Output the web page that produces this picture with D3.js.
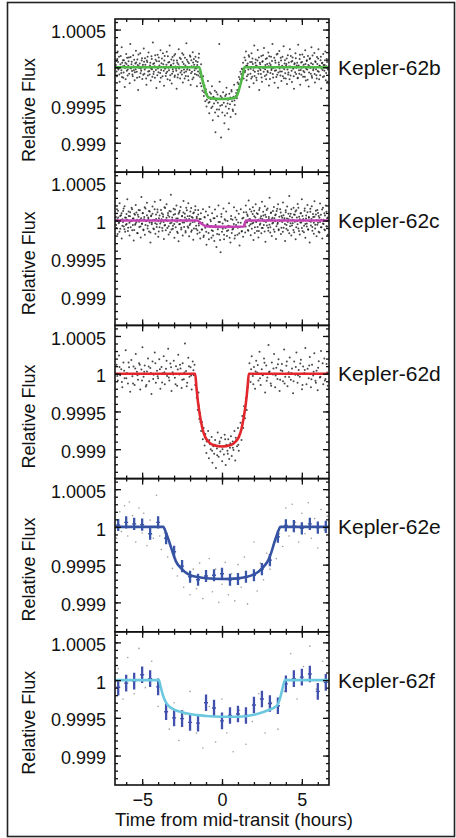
<!DOCTYPE html>
<html>
<head>
<meta charset="utf-8">
<script src="https://cdn.jsdelivr.net/npm/d3@7"></script>
<style>
body { margin: 0; background: #fff; }
svg text { font-family: "Liberation Sans", Arial, Helvetica, sans-serif; fill: #111; }
</style>
</head>
<body>
<svg id="chart" width="456" height="838"></svg>
<script>
// planet names, one panel each
var planetNames = ["Kepler-62b", "Kepler-62c", "Kepler-62d", "Kepler-62e", "Kepler-62f"];

// model fits: [hours from mid-transit, flux offset in ppm]
var bModel = [[-6.7,0],[-1.42,0],[-1.3,-100],[-1.15,-230],[-1.0,-340],[-0.85,-400],[-0.5,-415],[0,-420],[0.5,-415],[0.85,-400],[1.0,-340],[1.15,-230],[1.3,-100],[1.4,0],[6.7,0]];
var cModel = [[-6.7,0],[-1.55,0],[-1.3,-40],[-1.0,-75],[0,-85],[1.38,-80],[1.43,-40],[1.5,0],[6.7,0]];
var dModel = [[-6.7,0],[-1.68,0],[-1.6,-180],[-1.5,-380],[-1.4,-530],[-1.3,-650],[-1.2,-750],[-1.05,-840],[-0.85,-900],[-0.55,-945],[0,-965],[0.55,-945],[0.85,-900],[1.05,-840],[1.2,-750],[1.3,-650],[1.4,-530],[1.5,-380],[1.6,-180],[1.68,0],[6.7,0]];
var eModel = [[-6.7,0],[-3.68,0],[-3.5,-80],[-3.3,-200],[-3.1,-330],[-2.9,-450],[-2.6,-540],[-2.3,-600],[-2.0,-640],[-1.5,-665],[-1,-680],[0,-690],[1,-682],[1.5,-665],[2.0,-630],[2.3,-590],[2.6,-530],[2.9,-440],[3.1,-330],[3.3,-190],[3.5,-70],[3.66,0],[6.7,0]];
var fModel = [[-6.7,0],[-3.95,0],[-3.85,-80],[-3.7,-200],[-3.5,-300],[-3.3,-350],[-3.0,-390],[-2.5,-425],[-2.0,-450],[-1.0,-475],[0,-485],[1.0,-485],[2.0,-460],[2.5,-430],[3.0,-390],[3.3,-360],[3.5,-320],[3.65,-230],[3.8,-100],[3.95,0],[6.7,0]];

// individual measurements: [hours, ppm]
var bDots = [[-6.62,85],[-6.58,-120],[-6.53,210],[-6.49,-30],[-6.45,140],[-6.41,-190],[-6.36,40],[-6.31,-75],[-6.28,265],[-6.22,10],[-6.18,-140],[-6.14,95],[-6.09,-260],[-6.05,60],[-6.0,175],[-5.96,-45],[-5.91,-110],[-5.87,20],[-5.83,130],[-5.78,-210],[-5.74,310],[-5.69,-15],[-5.65,75],[-5.61,-95],[-5.56,160],[-5.52,-40],[-5.47,-170],[-5.43,50],[-5.39,220],[-5.34,-60],[-5.3,105],[-5.25,-300],[-5.21,15],[-5.17,-130],[-5.12,185],[-5.08,-20],[-5.03,90],[-4.99,-155],[-4.95,35],[-4.9,250],[-4.86,-85],[-4.82,120],[-4.77,-5],[-4.73,-230],[-4.68,70],[-4.64,-110],[-4.6,195],[-4.55,-50],[-4.51,25],[-4.46,-175],[-4.42,145],[-4.38,-25],[-4.33,330],[-4.29,-90],[-4.25,55],[-4.2,-140],[-4.16,100],[-4.11,-275],[-4.07,0],[-4.03,165],[-3.98,-65],[-3.94,80],[-3.89,-190],[-3.85,225],[-3.81,-35],[-3.76,115],[-3.72,-120],[-3.68,40],[-3.63,-245],[-3.59,150],[-3.54,-10],[-3.5,-80],[-3.46,205],[-3.41,-160],[-3.37,65],[-3.32,-40],[-3.28,290],[-3.24,-105],[-3.19,30],[-3.15,-215],[-3.1,135],[-3.06,-55],[-3.02,90],[-2.97,-130],[-2.93,175],[-2.88,-20],[-2.84,-285],[-2.8,60],[-2.75,-95],[-2.71,240],[-2.67,10],[-2.62,-150],[-2.58,110],[-2.53,-45],[-2.49,185],[-2.45,-200],[-2.4,45],[-2.36,-70],[-2.32,125],[-2.27,-115],[-2.23,320],[-2.18,-30],[-2.14,75],[-2.1,-170],[-2.05,5],[-2.01,155],[-1.96,-235],[-1.92,95],[-1.88,-60],[-1.83,200],[-1.79,-135],[-1.74,35],[-1.7,-90],[-1.66,140],[-1.61,-15],[-1.57,-250],[-1.53,70],[-1.48,-110],[-1.44,180],
  [-1.39,-80],[-1.35,-210],[-1.31,40],[-1.27,-160],[-1.22,-310],[-1.18,-120],[-1.14,-380],[-1.1,-240],[-1.05,-450],[-1.01,-290],[-0.97,-520],[-0.93,-360],[-0.88,-180],[-0.84,-470],[-0.8,-610],[-0.76,-330],[-0.71,-420],[-0.67,-540],[-0.63,-250],[-0.58,-700],[-0.54,-390],[-0.5,-480],[-0.45,-310],[-0.41,-860],[-0.37,-440],[-0.32,-560],[-0.28,-360],[-0.24,-650],[-0.19,-420],[-0.17,310],[-0.15,-190],[-0.11,-510],[-0.06,-930],[-0.02,-400],[0.02,-600],[0.07,-330],[0.11,-470],[0.15,-740],[0.2,-380],[0.24,-520],[0.28,-270],[0.33,-610],[0.37,-430],[0.41,-820],[0.46,-350],[0.5,-490],[0.54,-660],[0.59,-300],[0.63,-450],[0.67,-560],[0.72,-390],[0.76,-230],[0.8,-500],[0.85,-620],[0.89,-340],[0.93,-410],[0.98,-200],[1.02,-310],[1.06,-130],[1.11,-260],[1.15,-60],[1.19,-180],[1.24,-20],[1.28,-110],[1.32,60],[1.36,-150],
  [1.41,130],[1.45,-45],[1.5,210],[1.54,-170],[1.58,25],[1.63,-95],[1.67,160],[1.71,-260],[1.76,70],[1.8,-20],[1.85,185],[1.89,-125],[1.93,45],[1.98,-210],[2.02,290],[2.06,-60],[2.11,105],[2.15,-140],[2.2,15],[2.24,230],[2.28,-85],[2.33,-300],[2.37,60],[2.41,-35],[2.46,150],[2.5,-190],[2.55,80],[2.59,-10],[2.63,255],[2.68,-115],[2.72,30],[2.76,-160],[2.81,120],[2.85,-50],[2.9,195],[2.94,-240],[2.98,55],[3.03,-75],[3.07,140],[3.11,-20],[3.16,310],[3.2,-135],[3.24,5],[3.29,-205],[3.33,90],[3.38,-40],[3.42,170],[3.46,-100],[3.51,-270],[3.55,65],[3.59,215],[3.64,-55],[3.68,125],[3.72,-180],[3.77,20],[3.81,-120],[3.86,280],[3.9,-25],[3.94,95],[3.99,-150],[4.03,45],[4.07,-220],[4.12,160],[4.16,-70],[4.2,10],[4.25,240],[4.29,-110],[4.34,75],[4.38,-195],[4.42,130],[4.47,-15],[4.51,-285],[4.55,55],[4.6,185],[4.64,-90],[4.68,25],[4.73,-145],[4.77,300],[4.82,-40],[4.86,110],[4.9,-230],[4.95,65],[4.99,-5],[5.03,170],[5.08,-125],[5.12,35],[5.16,-65],[5.21,225],[5.25,-175],[5.3,85],[5.34,-30],[5.38,150],[5.43,-255],[5.47,15],[5.51,120],[5.56,-85],[5.6,265],[5.64,-140],[5.69,40],[5.73,-20],[5.78,190],[5.82,-200],[5.86,70],[5.91,-105],[5.95,135],[5.99,-50],[6.04,240],[6.08,-160],[6.12,20],[6.17,95],[6.21,-280],[6.26,55],[6.3,-35],[6.34,175],[6.39,-120],[6.43,30],[6.47,210],[6.52,-75],[6.56,110],[6.6,-190]];

var bDots2 = [[-6.65,30],[-6.6,-55],[-6.56,110],[-6.51,70],[-6.47,-15],[-6.43,-95],[-6.39,5],[-6.34,150],[-6.3,-40],[-6.26,-130],[-6.25,60],[-6.2,95],[-6.16,-70],[-6.12,20],[-6.07,-10],[-6.03,-160],[-5.98,45],[-5.94,125],[-5.9,-30],[-5.85,80],[-5.81,-85],[-5.76,-5],[-5.72,135],[-5.67,40],[-5.63,-50],[-5.59,-120],[-5.54,15],[-5.5,100],[-5.45,-65],[-5.41,-25],[-5.37,65],[-5.32,-140],[-5.28,30],[-5.23,170],[-5.19,-10],[-5.15,50],[-5.1,-80],[-5.06,-45],[-5.01,120],[-4.97,10],[-4.93,-100],[-4.88,75],[-4.84,-30],[-4.8,35],[-4.75,-150],[-4.71,90],[-4.66,140],[-4.62,-55],[-4.58,0],[-4.53,-95],[-4.49,60],[-4.44,-20],[-4.4,110],[-4.36,-125],[-4.31,45],[-4.27,-60],[-4.22,15],[-4.18,160],[-4.14,-35],[-4.09,80],[-4.05,-105],[-4.01,-15],[-3.96,130],[-3.92,25],[-3.87,-75],[-3.83,-140],[-3.79,55],[-3.74,5],[-3.7,185],[-3.65,-45],[-3.61,90],[-3.57,-20],[-3.52,-115],[-3.48,35],[-3.43,-60],[-3.39,145],[-3.35,-5],[-3.3,70],[-3.26,-170],[-3.21,20],[-3.17,105],[-3.13,-85],[-3.08,-25],[-3.04,50],[-2.99,155],[-2.95,-110],[-2.91,10],[-2.86,-45],[-2.82,90],[-2.78,-135],[-2.73,40],[-2.69,-15],[-2.64,125],[-2.6,-70],[-2.56,5],[-2.51,-95],[-2.47,70],[-2.42,165],[-2.38,-30],[-2.34,-150],[-2.29,25],[-2.25,-55],[-2.2,100],[-2.16,-5],[-2.12,-120],[-2.07,55],[-2.03,-35],[-1.98,140],[-1.94,-80],[-1.9,15],[-1.85,-160],[-1.81,65],[-1.76,110],[-1.72,-40],[-1.68,-10],[-1.63,85],[-1.59,-100],[-1.55,30],[-1.5,-55],[-1.46,125],
  [-1.37,-130],[-1.29,-250],[-1.2,-200],[-1.12,-330],[-1.03,-350],[-0.95,-430],[-0.86,-390],[-0.78,-460],[-0.69,-350],[-0.6,-520],[-0.52,-400],[-0.43,-600],[-0.35,-330],[-0.26,-470],[-0.18,-560],[-0.09,-380],[0,-500],[0.09,-420],[0.18,-640],[0.26,-360],[0.35,-480],[0.43,-550],[0.52,-400],[0.6,-320],[0.69,-580],[0.78,-440],[0.86,-380],[0.95,-300],[1.03,-220],[1.12,-160],[1.2,-90],[1.29,-30],
  [1.43,-65],[1.47,95],[1.52,20],[1.56,-120],[1.61,50],[1.65,-30],[1.7,140],[1.74,5],[1.78,-85],[1.83,-150],[1.87,70],[1.91,115],[1.96,-40],[2.0,-5],[2.04,-115],[2.09,60],[2.13,25],[2.17,-170],[2.22,90],[2.26,-50],[2.31,130],[2.35,-15],[2.39,40],[2.44,-90],[2.48,-135],[2.52,75],[2.57,160],[2.61,-60],[2.65,0],[2.7,-25],[2.74,110],[2.78,-100],[2.83,45],[2.87,-65],[2.92,15],[2.96,145],[3.0,-155],[3.05,30],[3.09,-35],[3.13,85],[3.18,-90],[3.22,-10],[3.27,125],[3.31,-45],[3.35,60],[3.4,-130],[3.44,5],[3.48,180],[3.53,-70],[3.57,35],[3.61,-15],[3.66,-110],[3.7,90],[3.75,-55],[3.79,140],[3.83,-5],[3.88,-145],[3.92,50],[3.96,-80],[4.01,20],[4.05,115],[4.1,-30],[4.14,-95],[4.18,65],[4.23,-160],[4.27,10],[4.31,150],[4.36,-45],[4.4,85],[4.45,-15],[4.49,-120],[4.53,40],[4.58,-65],[4.62,120],[4.66,-5],[4.71,60],[4.75,-140],[4.8,25],[4.84,-85],[4.88,165],[4.93,-35],[4.97,-100],[5.01,70],[5.06,10],[5.1,-50],[5.14,135],[5.19,-125],[5.23,45],[5.27,-20],[5.32,95],[5.36,-165],[5.41,30],[5.45,-70],[5.49,110],[5.54,-10],[5.58,55],[5.62,-115],[5.67,155],[5.71,-40],[5.75,5],[5.8,-90],[5.84,80],[5.89,-25],[5.93,-150],[5.97,45],[6.02,115],[6.06,-60],[6.1,20],[6.15,-105],[6.19,140],[6.23,-15],[6.28,60],[6.32,-130],[6.36,30],[6.41,-45],[6.45,95],[6.5,-170],[6.54,15],[6.58,70],[6.63,-30]];

var cDots = [[-6.63,-60],[-6.58,150],[-6.54,-180],[-6.5,40],[-6.45,-20],[-6.41,230],[-6.37,-110],[-6.32,70],[-6.28,-240],[-6.23,15],[-6.19,125],[-6.15,-80],[-6.1,190],[-6.06,-150],[-6.01,35],[-5.97,-45],[-5.93,280],[-5.88,-95],[-5.84,60],[-5.79,-200],[-5.75,110],[-5.71,-10],[-5.66,170],[-5.62,-130],[-5.58,25],[-5.53,-265],[-5.49,90],[-5.44,-55],[-5.4,205],[-5.36,-20],[-5.31,-165],[-5.27,75],[-5.22,140],[-5.18,-85],[-5.14,10],[-5.09,-225],[-5.05,310],[-5.01,-40],[-4.96,100],[-4.92,-120],[-4.87,45],[-4.83,-190],[-4.79,160],[-4.74,-5],[-4.7,235],[-4.65,-70],[-4.61,20],[-4.57,-145],[-4.52,120],[-4.48,-290],[-4.43,65],[-4.39,-30],[-4.35,185],[-4.3,-105],[-4.26,5],[-4.21,250],[-4.17,-175],[-4.13,80],[-4.08,-50],[-4.04,145],[-3.99,-215],[-3.95,30],[-3.91,-90],[-3.86,270],[-3.82,-15],[-3.77,95],[-3.73,-135],[-3.69,50],[-3.64,-245],[-3.6,175],[-3.56,-60],[-3.51,10],[-3.47,215],[-3.42,-100],[-3.38,70],[-3.34,-185],[-3.29,125],[-3.25,-35],[-3.2,340],[-3.16,-120],[-3.12,40],[-3.07,-70],[-3.03,155],[-2.98,-230],[-2.94,85],[-2.9,-10],[-2.85,200],[-2.81,-150],[-2.77,25],[-2.72,-275],[-2.68,110],[-2.63,-45],[-2.59,180],[-2.55,-95],[-2.5,55],[-2.46,-200],[-2.41,260],[-2.37,-25],[-2.33,90],[-2.28,-160],[-2.24,15],[-2.2,135],[-2.15,-80],[-2.11,230],[-2.06,-210],[-2.02,60],[-1.98,-40],[-1.93,165],[-1.89,-130],[-1.84,35],[-1.8,-255],[-1.76,105],[-1.71,-15],[-1.67,190],[-1.62,-110],[-1.58,50],[-1.54,-175],[-1.49,140],[-1.45,-65],[-1.41,20],[-1.36,-240],[-1.32,95],[-1.27,-120],[-1.23,-30],[-1.19,150],[-1.14,-200],[-1.1,45],[-1.05,-95],[-1.01,120],[-0.97,-320],[-0.92,-50],[-0.88,70],[-0.84,-165],[-0.79,180],[-0.75,-85],[-0.7,-10],[-0.66,-230],[-0.62,95],[-0.57,-140],[-0.53,30],[-0.48,-270],[-0.44,145],[-0.4,-60],[-0.35,-350],[-0.31,55],[-0.26,-115],[-0.22,200],[-0.18,-185],[-0.13,-20],[-0.09,-420],[-0.04,85],[0.0,-150],[0.04,-40],[0.09,160],[0.13,-250],[0.17,15],[0.22,-100],[0.26,120],[0.31,-205],[0.35,-5],[0.39,-130],[0.44,230],[0.48,-75],[0.53,-290],[0.57,60],[0.61,-165],[0.66,10],[0.7,-110],[0.75,175],[0.79,-240],[0.83,40],[0.88,-60],[0.92,130],[0.97,-190],[1.01,-25],[1.05,90],[1.1,-330],[1.14,-85],[1.18,150],[1.23,-145],[1.27,25],[1.32,-215],[1.36,110],[1.4,-50],[1.45,-160],[1.49,200],[1.54,-20],[1.58,80],[1.62,-125],[1.67,265],[1.71,-70],[1.76,15],[1.8,-195],[1.84,120],[1.89,-40],[1.93,175],[1.97,-260],[2.02,55],[2.06,-90],[2.11,215],[2.15,-15],[2.19,-140],[2.24,85],[2.28,-225],[2.33,140],[2.37,-55],[2.41,30],[2.46,-170],[2.5,250],[2.55,-100],[2.59,65],[2.63,-10],[2.68,190],[2.72,-280],[2.76,45],[2.81,-65],[2.85,160],[2.9,-135],[2.94,20],[2.98,300],[3.03,-90],[3.07,105],[3.12,-205],[3.16,35],[3.2,-30],[3.25,180],[3.29,-150],[3.33,70],[3.38,-245],[3.42,125],[3.47,-45],[3.51,215],[3.55,-115],[3.6,5],[3.64,150],[3.69,-180],[3.73,60],[3.77,-20],[3.82,240],[3.86,-95],[3.91,30],[3.95,-270],[3.99,110],[4.04,-60],[4.08,185],[4.12,-130],[4.17,15],[4.21,325],[4.26,-75],[4.3,90],[4.34,-200],[4.39,40],[4.43,-35],[4.48,170],[4.52,-155],[4.56,75],[4.61,-250],[4.65,135],[4.7,-10],[4.74,220],[4.78,-105],[4.83,50],[4.87,-185],[4.92,95],[4.96,-25],[5.0,280],[5.05,-140],[5.09,20],[5.14,-70],[5.18,160],[5.22,-230],[5.27,65],[5.31,-40],[5.35,205],[5.4,-120],[5.44,35],[5.49,-290],[5.53,115],[5.57,-15],[5.62,190],[5.66,-85],[5.71,45],[5.75,-175],[5.79,255],[5.84,-55],[5.88,80],[5.92,-210],[5.97,140],[6.01,-30],[6.06,60],[6.1,-160],[6.14,225],[6.19,-90],[6.23,10],[6.28,-240],[6.32,170],[6.36,-45],[6.41,95],[6.45,-130],[6.5,200],[6.54,-75],[6.58,30],[6.62,-190]];

var cDots2 = [[-6.64,45],[-6.6,-100],[-6.55,15],[-6.51,130],[-6.46,-35],[-6.42,-150],[-6.38,60],[-6.33,5],[-6.29,95],[-6.24,-70],[-6.2,-20],[-6.16,160],[-6.11,-115],[-6.07,40],[-6.02,-55],[-5.98,85],[-5.94,10],[-5.89,-140],[-5.85,120],[-5.8,-30],[-5.76,55],[-5.72,-90],[-5.67,-5],[-5.63,150],[-5.58,-60],[-5.54,25],[-5.5,-125],[-5.45,75],[-5.41,-40],[-5.36,105],[-5.32,10],[-5.28,-170],[-5.23,50],[-5.19,-15],[-5.14,135],[-5.1,-80],[-5.06,30],[-5.01,-45],[-4.97,95],[-4.92,-130],[-4.88,15],[-4.84,175],[-4.79,-60],[-4.75,-10],[-4.7,70],[-4.66,-105],[-4.62,40],[-4.57,125],[-4.53,-25],[-4.48,-160],[-4.44,55],[-4.4,-50],[-4.35,90],[-4.31,5],[-4.26,-115],[-4.22,150],[-4.18,-35],[-4.13,20],[-4.09,-85],[-4.04,110],[-4,-10],[-3.96,-145],[-3.91,65],[-3.87,-40],[-3.82,140],[-3.78,15],[-3.74,-100],[-3.69,80],[-3.65,-20],[-3.6,-65],[-3.56,165],[-3.52,-130],[-3.47,35],[-3.43,-5],[-3.38,100],[-3.34,-75],[-3.3,50],[-3.25,-155],[-3.21,120],[-3.16,-30],[-3.12,10],[-3.08,-110],[-3.03,75],[-2.99,-45],[-2.94,145],[-2.9,-90],[-2.86,25],[-2.81,-15],[-2.77,-165],[-2.72,90],[-2.68,-50],[-2.64,130],[-2.59,5],[-2.55,-120],[-2.5,60],[-2.46,-25],[-2.42,105],[-2.37,-85],[-2.33,40],[-2.28,-140],[-2.24,170],[-2.2,-10],[-2.15,55],[-2.11,-95],[-2.06,20],[-2.02,-60],[-1.98,120],[-1.93,-150],[-1.89,45],[-1.84,-20],[-1.8,95],[-1.76,-105],[-1.71,0],[-1.67,140],[-1.62,-70],[-1.58,30],[-1.54,-130],[-1.49,80],[-1.45,-40],
  [-1.4,-160],[-1.33,20],[-1.25,-120],[-1.16,-220],[-1.08,40],[-0.99,-150],[-0.9,-60],[-0.82,-250],[-0.73,10],[-0.64,-130],[-0.56,-200],[-0.47,30],[-0.38,-90],[-0.3,-180],[-0.21,-20],[-0.12,-260],[-0.04,50],[0.05,-110],[0.13,-190],[0.22,0],[0.31,-140],[0.39,-70],[0.48,-230],[0.56,20],[0.65,-120],[0.74,-45],[0.82,-200],[0.91,10],[0.99,-95],[1.08,-170],[1.17,-30],[1.25,-140],[1.34,35],
  [1.48,-80],[1.52,110],[1.57,-25],[1.61,60],[1.65,-135],[1.7,15],[1.74,150],[1.79,-50],[1.83,-5],[1.87,-110],[1.92,85],[1.96,-30],[2.01,130],[2.05,-165],[2.09,40],[2.14,-15],[2.18,95],[2.23,-85],[2.27,10],[2.31,-140],[2.36,165],[2.4,-40],[2.45,55],[2.49,-100],[2.53,20],[2.58,115],[2.62,-60],[2.67,-145],[2.71,75],[2.75,-20],[2.8,140],[2.84,5],[2.89,-95],[2.93,45],[2.97,-55],[3.02,-160],[3.06,100],[3.11,15],[3.15,-40],[3.19,125],[3.24,-120],[3.28,30],[3.33,-10],[3.37,80],[3.41,-75],[3.46,155],[3.5,-30],[3.55,-130],[3.59,50],[3.63,-5],[3.68,105],[3.72,-95],[3.77,35],[3.81,-150],[3.85,70],[3.9,10],[3.94,-45],[3.99,135],[4.03,-110],[4.07,25],[4.12,-20],[4.16,90],[4.21,-170],[4.25,55],[4.29,-35],[4.34,150],[4.38,-65],[4.43,5],[4.47,-125],[4.51,80],[4.56,-15],[4.6,120],[4.65,-90],[4.69,40],[4.73,-50],[4.78,170],[4.82,-140],[4.87,15],[4.91,-25],[4.95,95],[5,-100],[5.04,60],[5.09,0],[5.13,-155],[5.17,130],[5.22,-45],[5.26,25],[5.31,-80],[5.35,110],[5.39,-120],[5.44,45],[5.48,-10],[5.53,155],[5.57,-65],[5.61,20],[5.66,-135],[5.7,85],[5.75,-30],[5.79,50],[5.83,-105],[5.88,130],[5.92,5],[5.97,-55],[6.01,100],[6.05,-150],[6.1,35],[6.14,-20],[6.19,75],[6.23,-90],[6.27,145],[6.32,-40],[6.36,10],[6.41,-120],[6.45,65],[6.49,-5],[6.54,115],[6.58,-80],[6.63,40]];

var dDots = [[-6.6,120],[-6.52,-90],[-6.45,240],[-6.38,-20],[-6.31,60],[-6.24,-180],[-6.17,150],[-6.1,-60],[-6.03,310],[-5.96,10],[-5.89,-130],[-5.82,85],[-5.75,-240],[-5.68,180],[-5.61,-35],[-5.54,95],[-5.47,-150],[-5.4,260],[-5.33,25],[-5.26,-80],[-5.19,140],[-5.12,-210],[-5.05,55],[-4.98,350],[-4.91,-40],[-4.84,110],[-4.77,-170],[-4.7,30],[-4.63,200],[-4.56,-100],[-4.49,75],[-4.42,-270],[-4.35,160],[-4.28,-15],[-4.21,280],[-4.14,-120],[-4.07,40],[-4.0,-60],[-3.93,190],[-3.86,-200],[-3.79,90],[-3.72,5],[-3.65,230],[-3.58,-140],[-3.51,65],[-3.44,-30],[-3.37,330],[-3.3,-90],[-3.23,135],[-3.16,-230],[-3.09,20],[-3.02,170],[-2.95,-55],[-2.88,100],[-2.81,-160],[-2.74,250],[-2.67,-10],[-2.6,70],[-2.53,-190],[-2.46,140],[-2.39,-75],[-2.32,400],[-2.25,35],[-2.18,-120],[-2.11,210],[-2.04,-40],[-1.97,85],[-1.9,-210],[-1.83,160],[-1.76,-20],[-1.72,120],
  [-1.68,-150],[-1.63,-60],[-1.58,-320],[-1.52,-480],[-1.47,-250],[-1.42,-600],[-1.37,-520],[-1.31,-760],[-1.26,-640],[-1.2,-870],[-1.15,-720],[-1.09,-950],[-1.04,-800],[-0.98,-1050],[-0.93,-880],[-0.87,-760],[-0.82,-1120],[-0.76,-930],[-0.71,-1000],[-0.65,-840],[-0.6,-1180],[-0.54,-960],[-0.49,-1060],[-0.43,-880],[-0.38,-1250],[-0.32,-990],[-0.27,-780],[-0.21,-1100],[-0.16,-920],[-0.1,-1030],[-0.05,-850],[0.01,-1160],[0.06,-960],[0.12,-1070],[0.17,-810],[0.23,-1210],[0.28,-940],[0.34,-1020],[0.39,-870],[0.45,-1130],[0.5,-980],[0.56,-830],[0.61,-1090],[0.67,-900],[0.72,-1010],[0.78,-760],[0.83,-1150],[0.89,-880],[0.94,-960],[1.0,-720],[1.05,-1020],[1.11,-800],[1.16,-650],[1.22,-880],[1.27,-560],[1.33,-720],[1.38,-430],[1.44,-590],[1.49,-330],[1.55,-480],[1.6,-180],[1.66,-90],
  [1.72,140],[1.79,-110],[1.86,230],[1.93,-30],[2.0,90],[2.07,-200],[2.14,170],[2.21,15],[2.28,-90],[2.35,290],[2.42,-150],[2.49,60],[2.56,-20],[2.63,200],[2.7,-250],[2.77,110],[2.84,-50],[2.91,380],[2.98,30],[3.05,-130],[3.12,150],[3.19,-10],[3.26,260],[3.33,-180],[3.4,80],[3.47,-70],[3.54,190],[3.61,-230],[3.68,45],[3.75,130],[3.82,-100],[3.89,320],[3.96,-40],[4.03,105],[4.1,-165],[4.17,20],[4.24,215],[4.31,-80],[4.38,70],[4.45,-260],[4.52,160],[4.59,-15],[4.66,280],[4.73,-120],[4.8,50],[4.87,-40],[4.94,185],[5.01,-205],[5.08,95],[5.15,10],[5.22,340],[5.29,-140],[5.36,65],[5.43,-60],[5.5,220],[5.57,-180],[5.64,120],[5.71,-25],[5.78,270],[5.85,-95],[5.92,40],[5.99,-220],[6.06,165],[6.13,-50],[6.2,300],[6.27,0],[6.34,-140],[6.41,200],[6.48,-70],[6.55,130],[6.62,-160]];

var dDots2 = [[-6.56,-30],[-6.42,90],[-6.27,-110],[-6.13,40],[-5.99,-60],[-5.85,150],[-5.71,-5],[-5.57,-130],[-5.43,70],[-5.29,-20],[-5.15,120],[-5.01,-90],[-4.87,25],[-4.73,-150],[-4.59,95],[-4.45,10],[-4.31,-70],[-4.17,140],[-4.03,-35],[-3.89,60],[-3.75,-115],[-3.61,20],[-3.47,170],[-3.33,-50],[-3.19,85],[-3.05,-10],[-2.91,-140],[-2.77,55],[-2.63,120],[-2.49,-80],[-2.35,15],[-2.21,-165],[-2.07,100],[-1.93,-25],[-1.79,45],
  [-1.55,-280],[-1.45,-420],[-1.35,-640],[-1.24,-700],[-1.12,-800],[-0.96,-900],[-0.8,-880],[-0.62,-1020],[-0.45,-940],[-0.3,-1080],[-0.14,-900],[0.03,-1000],[0.2,-870],[0.36,-1060],[0.52,-920],[0.68,-980],[0.86,-850],[1.02,-940],[1.18,-760],[1.32,-620],[1.46,-480],[1.56,-300],
  [1.82,60],[1.96,-140],[2.1,30],[2.24,115],[2.38,-60],[2.52,-10],[2.66,145],[2.8,-95],[2.94,20],[3.08,-160],[3.22,70],[3.36,-25],[3.5,125],[3.64,-80],[3.78,35],[3.92,-130],[4.06,160],[4.2,-45],[4.34,10],[4.48,-100],[4.62,90],[4.76,-20],[4.9,135],[5.04,-150],[5.18,50],[5.32,-5],[5.46,110],[5.6,-75],[5.74,25],[5.88,-120],[6.02,80],[6.16,-40],[6.3,140],[6.44,-90],[6.58,15]];

var eDots = [[-6.6,-150],[-6.4,200],[-6.3,-60],[-6.1,280],[-5.9,-120],[-5.8,330],[-5.6,150],[-5.4,-200],[-5.2,250],[-5.0,-80],[-4.9,180],[-4.7,-250],[-4.5,90],[-4.3,-150],[-4.1,420],[-3.9,-120],[-3.8,-300],[-3.6,-80],[-3.4,-400],[-3.3,-200],[-3.1,-550],[-2.9,-420],[-2.8,-650],[-2.6,-520],[-2.4,-800],[-2.2,-600],[-2.0,-900],[-1.8,-560],[-1.6,-820],[-1.4,-480],[-1.2,-950],[-1.0,-700],[-0.8,-420],[-0.6,-860],[-0.4,-560],[-0.2,-1000],[0.0,-760],[0.2,-470],[0.4,-900],[0.6,-620],[0.8,-980],[1.0,-500],[1.2,-800],[1.4,-400],[1.6,-1020],[1.8,-650],[2.0,-200],[2.2,-850],[2.4,-480],[2.6,-700],[2.8,-350],[3.0,-560],[3.2,-250],[3.4,-420],[3.6,-90],[3.8,-260],[4.0,250],[4.2,-120],[4.4,300],[4.6,60],[4.8,-200],[5.0,180],[5.2,-90],[5.4,320],[5.6,-150],[5.8,110],[6.0,-280],[6.2,230],[6.4,-40],[6.6,140]];

var fDots = [[-6.5,150],[-6.2,-250],[-5.9,300],[-5.5,-180],[-5.2,420],[-4.8,-100],[-4.4,250],[-4.0,-350],[-3.7,-200],[-3.3,-650],[-3.0,-300],[-2.7,-800],[-2.3,-450],[-2.0,-150],[-1.6,-700],[-1.2,-900],[-0.8,-350],[-0.4,-820],[0.0,-250],[0.3,-700],[0.7,-950],[1.1,-400],[1.5,-850],[1.9,-550],[2.3,-180],[2.7,-700],[3.1,-300],[3.5,-650],[3.9,-150],[4.3,350],[4.7,-250],[5.1,180],[5.5,450],[5.9,-120],[6.3,250],[6.6,-300]];

// binned points with error bars (e and f panels)
var binTimes = [-6.5,-6,-5.5,-5,-4.5,-4,-3.5,-3,-2.5,-2,-1.5,-1,-0.5,0,0.5,1,1.5,2,2.5,3,3.5,4,4.5,5,5.5,6,6.5];
var eBinFlux = [25,60,40,30,-90,60,-150,-330,-520,-660,-700,-650,-640,-620,-700,-690,-660,-640,-560,-440,-130,20,10,-20,40,-10,0];
var fBinFlux = [-95,-40,-13,70,20,-90,-420,-500,-510,-560,-570,-300,-370,-540,-470,-450,-470,-330,-250,-310,-340,-50,20,40,80,-150,-30];
var eBinErr = 80;
var fBinErr = 110;

var modelColors = ["#52b848", "#c440b4", "#e3262b", "#3653a3", "#6cc8de"];

function drawChart () {

    var left = 115, right = 329, top = 19, panelH = 153.2;
    var svg = d3.select("#chart");

    //outer frame of the figure
    svg.append("rect")
        .attr("x", 7.5).attr("y", 2.5)
        .attr("width", 447).attr("height", 834)
        .attr("fill", "none")
        .attr("stroke", "#222")
        .attr("stroke-width", 1.6);

    var x = d3.scaleLinear().domain([-6.7, 6.7]).range([left, right]);

    var panels = [
        {dots: bDots.concat(bDots2), model: bModel},
        {dots: cDots.concat(cDots2), model: cModel},
        {dots: dDots.concat(dDots2), model: dModel},
        {dots: eDots, model: eModel, bins: eBinFlux, err: eBinErr, barColor: "#3a56a8"},
        {dots: fDots, model: fModel, bins: fBinFlux, err: fBinErr, barColor: "#4150ac"}
    ];

    function flux (ppm) { return 1 + ppm * 1e-6; }
    function fmt (d) { return String(+d.toFixed(4)); }

    panels.forEach(function (p, i) {
        var y0 = top + i * panelH;
        var y = d3.scaleLinear().domain([0.99861, 1.00064]).range([y0 + panelH, y0]);
        var g = svg.append("g");

        var clipId = "clip" + i;
        svg.append("clipPath").attr("id", clipId)
            .append("rect")
            .attr("x", left).attr("y", y0)
            .attr("width", right - left).attr("height", panelH);

        var plot = g.append("g").attr("clip-path", "url(#" + clipId + ")");

        //raw points
        plot.selectAll(".dot")
            .data(p.dots)
            .enter()
            .append("circle")
            .attr("cx", function (d) { return x(d[0]); })
            .attr("cy", function (d) { return y(flux(d[1])); })
            .attr("r", i < 3 ? 1.0 : 0.8)
            .attr("fill", i < 3 ? "#1a1a1a" : "#8a8a8a")
            .attr("opacity", i < 3 ? 0.8 : 0.85);

        //error bars
        if (p.bins) {
            var bars = plot.selectAll(".bar")
                .data(p.bins)
                .enter()
                .append("g");
            bars.append("line")
                .attr("x1", function (d, k) { return x(binTimes[k]); })
                .attr("x2", function (d, k) { return x(binTimes[k]); })
                .attr("y1", function (d) { return y(flux(d + p.err)); })
                .attr("y2", function (d) { return y(flux(d - p.err)); })
                .attr("stroke", p.barColor)
                .attr("stroke-width", 2.3);
            bars.append("line")
                .attr("x1", function (d, k) { return x(binTimes[k]) - 2; })
                .attr("x2", function (d, k) { return x(binTimes[k]) + 2; })
                .attr("y1", function (d) { return y(flux(d)); })
                .attr("y2", function (d) { return y(flux(d)); })
                .attr("stroke", p.barColor)
                .attr("stroke-width", 1.4);
        }

        //model curve
        var line = d3.line()
            .x(function (d) { return x(d[0]); })
            .y(function (d) { return y(flux(d[1])); })
            .curve(d3.curveMonotoneX);
        plot.append("path")
            .attr("d", line(p.model))
            .attr("fill", "none")
            .attr("stroke", modelColors[i])
            .attr("stroke-width", 2.6);

        //ticks on all four sides, pointing in
        var yMinor = y.ticks(20), yMajor = [0.999, 0.9995, 1, 1.0005];
        var xMinor = x.ticks(13), xMajor = [-5, 0, 5];

        function addAxis (axis, tx, ty) {
            var a = g.append("g")
                .attr("transform", "translate(" + tx + "," + ty + ")")
                .call(axis);
            a.select(".domain").remove();
            a.selectAll("line").attr("stroke", "#111").attr("stroke-width", 1.3);
            return a;
        }

        addAxis(d3.axisLeft(y).tickValues(yMinor).tickSize(-3).tickFormat(""), left, 0);
        var yl = addAxis(d3.axisLeft(y).tickValues(yMajor).tickSize(-6).tickPadding(9).tickFormat(fmt), left, 0);
        yl.selectAll("text").attr("font-size", 18).attr("dy", "0.45em");
        addAxis(d3.axisRight(y).tickValues(yMinor).tickSize(-3).tickFormat(""), right, 0);
        addAxis(d3.axisRight(y).tickValues(yMajor).tickSize(-6).tickFormat(""), right, 0);
        addAxis(d3.axisTop(x).tickValues(xMinor).tickSize(-3).tickFormat(""), 0, y0);
        addAxis(d3.axisTop(x).tickValues(xMajor).tickSize(-6).tickFormat(""), 0, y0);
        addAxis(d3.axisBottom(x).tickValues(xMinor).tickSize(-3).tickFormat(""), 0, y0 + panelH);
        var xb = addAxis(d3.axisBottom(x).tickValues(xMajor).tickSize(-6).tickPadding(8)
            .tickFormat(i == 4 ? d3.format("d") : ""), 0, y0 + panelH);
        xb.selectAll("text").attr("font-size", 18);

        g.selectAll("text").attr("fill", "#111").attr("font-family", null);

        //panel frame
        g.append("rect")
            .attr("x", left).attr("y", y0)
            .attr("width", right - left).attr("height", panelH)
            .attr("fill", "none")
            .attr("stroke", "#111")
            .attr("stroke-width", 1.6);

        //axis title
        g.append("text")
            .attr("transform", "translate(29," + (y0 + 91) + ") rotate(-90)")
            .attr("text-anchor", "middle")
            .attr("dy", "0.35em")
            .attr("font-size", 18)
            .text("Relative Flux");

        //planet label
        g.append("text")
            .attr("x", 338)
            .attr("y", y(1) + 7.5)
            .attr("font-size", 21)
            .text(planetNames[i]);
    });

    svg.append("text")
        .attr("x", 234)
        .attr("y", 826)
        .attr("text-anchor", "middle")
        .attr("font-size", 18.5)
        .text("Time from mid-transit (hours)");
}

window.onload = drawChart;
</script>
</body>
</html>
